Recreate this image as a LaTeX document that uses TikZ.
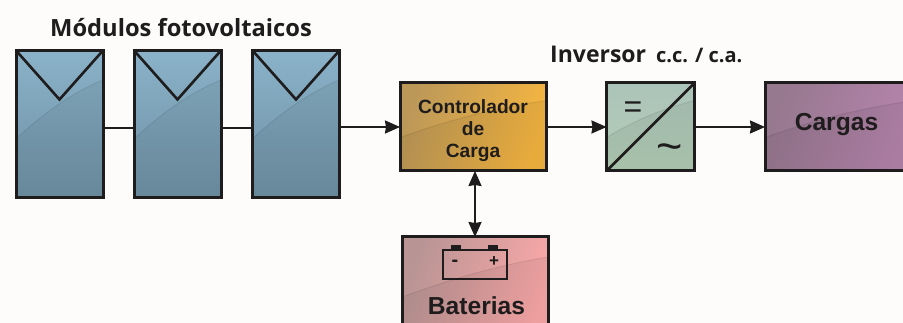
\documentclass[tikz,border=0pt]{standalone}
\usepackage{fontspec}
\setmainfont{Liberation Sans}
\newfontfamily\titlefont{Open Sans}
\usetikzlibrary{arrows.meta,calc}
\definecolor{ink}{HTML}{1E1C1C}
\definecolor{paper}{HTML}{FEFCFA}
\definecolor{panelA}{HTML}{8AB2C8}
\definecolor{panelB}{HTML}{6E90A4}
\definecolor{ctrlA}{HTML}{F6B640}
\definecolor{ctrlB}{HTML}{BC9858}
\definecolor{invA}{HTML}{B2CDB4}
\definecolor{invB}{HTML}{ACC4BA}
\definecolor{loadA}{HTML}{B684AC}
\definecolor{loadB}{HTML}{96788F}
\definecolor{battA}{HTML}{FCA8A8}
\definecolor{battB}{HTML}{B89494}
\tikzset{
  x=1pt,y=-1pt,
  boxed/.style={draw=ink,line width=3pt,rectangle,inner sep=0pt,outer sep=0pt},
  glossy/.style={path picture={
      \coordinate (ppsw) at (path picture bounding box.south west);
      \coordinate (ppne) at (path picture bounding box.north east);
      \coordinate (ppnw) at (ppsw|-ppne);
      \coordinate (ppse) at (ppne|-ppsw);
      \coordinate (gs) at ($(ppnw)!#1!(ppsw)$);
      \coordinate (ge) at ($(ppne)!.20!(ppse)$);
      \coordinate (g1x) at ($(ppnw)!.3!(ppne)$);
      \coordinate (g1y) at ($(ppnw)!.44!(ppsw)$);
      \coordinate (g2x) at ($(ppnw)!.6!(ppne)$);
      \coordinate (g2y) at ($(ppnw)!.30!(ppsw)$);
      \fill[black,opacity=.06]
        (gs) .. controls (g1x|-g1y) and (g2x|-g2y) .. (ge) -- (ppse) -- (ppsw) -- cycle;
      \draw[black,opacity=.08,line width=1pt]
        (gs) .. controls (g1x|-g1y) and (g2x|-g2y) .. (ge);
  }},
  panelbox/.style={boxed,glossy=.60,minimum width=87pt,minimum height=147pt,
    shading=axis,top color=panelA,bottom color=panelB},
  flow/.style={draw=ink,line width=2pt,-{Stealth[length=15pt,width=13pt,inset=1pt]}},
  link/.style={draw=ink,line width=2.4pt},
  twoway/.style={draw=ink,line width=2pt,{Stealth[length=15pt,width=13pt,inset=1pt]}-{Stealth[length=15pt,width=13pt,inset=1pt]}},
  marks/.style={draw=ink,line width=2.6pt},
  big/.style={font=\fontsize{24.6pt}{26pt}\selectfont\bfseries,text=ink},
  mid/.style={font=\fontsize{19.2pt}{22pt}\selectfont\bfseries,text=ink,align=center},
  heading/.style={font=\titlefont\fontsize{23.7pt}{26pt}\selectfont\bfseries,text=ink,anchor=base west,inner sep=0pt},
  invhead/.style={font=\titlefont\fontsize{23pt}{26pt}\selectfont\bfseries,text=ink,anchor=base west,inner sep=0pt},
  smallhead/.style={font=\titlefont\fontsize{20pt}{22pt}\selectfont\bfseries,text=ink,anchor=base west,inner sep=0pt},
}
\begin{document}
\begin{tikzpicture}
\useasboundingbox (0,0) rectangle (903,323);
\clip (0,0) rectangle (903,323);
\fill[paper] (0,0) rectangle (903,323);

% panels
\node[panelbox] (p1) at (59.5,124) {};
\node[panelbox] (p2) at (177.5,124) {};
\node[panelbox] (p3) at (296,124) {};
\foreach \nm in {p1,p2,p3}{
  \coordinate (\nm v) at ($(\nm.north)+(0,49)$);
  \draw[marks,line join=miter] (\nm.north west) -- (\nm v) -- (\nm.north east);
}

% boxes
\node[boxed,glossy=.62,minimum width=146pt,minimum height=88pt,shading=axis,
      left color=ctrlB,right color=ctrlA,shading angle=70] (ctrl) at (473,127) {};
\node[mid] (ctrltext) at (473,131) {Controlador\\de\\Carga};

\node[boxed,glossy=.62,minimum width=88pt,minimum height=88pt,shading=axis,
      top color=invB,bottom color=invA] (inv) at (650.5,127) {};
\draw[marks] (inv.south west) -- (inv.north east);
\node[font=\fontsize{32pt}{32pt}\selectfont,text=ink,inner sep=0pt] (eq) at (633,110) {=};
\node[font=\fontsize{45pt}{45pt}\selectfont,text=ink,inner sep=0pt] (tilde) at (670,153) {\char`\~};

\node[boxed,glossy=.62,minimum width=148pt,minimum height=88pt,shading=axis,
      left color=loadB,right color=loadA,shading angle=70] (load) at (839,127) {};
\node[big] (loadtext) at (836.5,125) {Cargas};

\node[boxed,glossy=.60,minimum width=146pt,minimum height=100pt,shading=axis,
      left color=battB,right color=battA,shading angle=70] (batt) at (475,287) {};
\node[big] (batttext) at (476.5,306) {Baterias};

% battery symbol
\node[draw=ink,line width=2.4pt,minimum width=64pt,minimum height=29pt,inner sep=0pt,outer sep=0pt] (cell) at (475,264.5) {};
\node[fill=ink,minimum width=10pt,minimum height=5pt,inner sep=0pt,anchor=south] (neg) at ([xshift=-19pt]cell.north) {};
\node[fill=ink,minimum width=10pt,minimum height=5pt,inner sep=0pt,anchor=south] (pos) at ([xshift=18pt]cell.north) {};
\node[font=\fontsize{20pt}{20pt}\selectfont\bfseries,text=ink,inner sep=0pt] (minus) at (455,263) {-};
\node[font=\fontsize{17pt}{17pt}\selectfont\bfseries,text=ink,inner sep=0pt] (plus) at (494,262) {+};

% connectors
\draw[link] ([yshift=-4pt]p1.east) -- ([yshift=-4pt]p2.west);
\draw[link] ([yshift=-4pt]p2.east) -- ([yshift=-4pt]p3.west);
\draw[flow] ([yshift=-3pt]p3.east) -- (ctrl.west);
\draw[flow] (ctrl.east) -- (inv.west);
\draw[flow] (inv.east) -- (inv.east -| load.west);
\draw[twoway] ([xshift=2pt]ctrl.south) -- (batt.north);

% titles
\node[heading] (title) at (50,37) {Módulos fotovoltaicos};
\node[invhead] (invt) at (550,63) {Inversor};
\node[smallhead] (invs) at (656,63) {c.c. / c.a.};
\end{tikzpicture}
\end{document}
